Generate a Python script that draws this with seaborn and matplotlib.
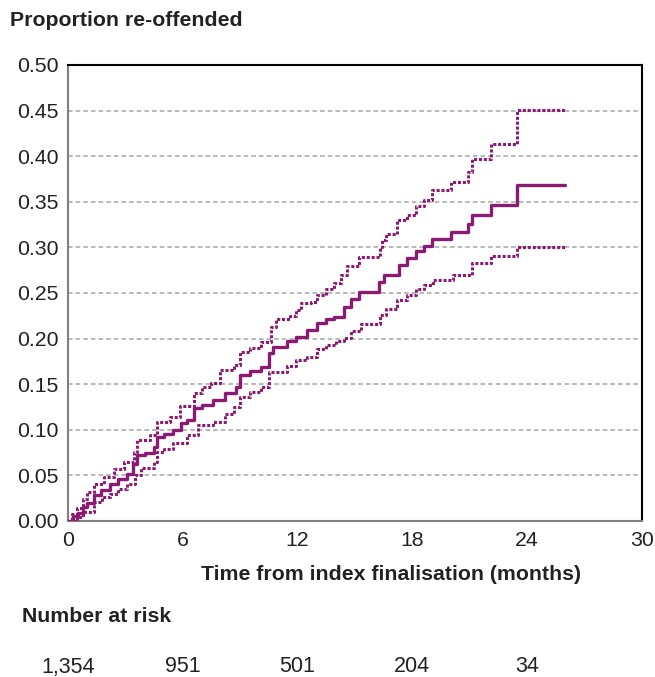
import pandas as pd
import numpy as np
import matplotlib.pyplot as plt
import matplotlib.transforms as mtransforms
from matplotlib.ticker import MultipleLocator
import seaborn as sns

# Kaplan-Meier style cumulative re-offending curve
est_months = [0, 0.25, 0.5, 0.8, 1.0, 1.34, 1.7, 2.2, 2.6, 3.1, 3.4, 3.6, 4.0, 4.5, 4.66,
              5.0, 5.5, 5.9, 6.2, 6.57, 7.0, 7.6, 8.2, 8.8, 9.0, 9.5, 10.07, 10.5, 10.7,
              11.45, 11.9, 12.5, 13.0, 13.5, 13.9, 14.4, 14.8, 15.2, 16.26, 16.5, 17.3,
              17.7, 18.2, 18.6, 19.0, 20.0, 20.9, 21.1, 22.1, 23.45, 26.0]
est_prop = [0, 0.005, 0.009, 0.015, 0.020, 0.028, 0.034, 0.041, 0.046, 0.052, 0.062, 0.072,
            0.075, 0.081, 0.092, 0.095, 0.100, 0.108, 0.111, 0.1235, 0.127, 0.133, 0.140,
            0.147, 0.160, 0.164, 0.1685, 0.184, 0.191, 0.197, 0.202, 0.2094, 0.2167, 0.221,
            0.224, 0.235, 0.243, 0.2514, 0.262, 0.2697, 0.2807, 0.288, 0.296, 0.302, 0.309,
            0.317, 0.326, 0.3355, 0.3465, 0.368, 0.368]

upper_months = [0, 0.2, 0.47, 0.8, 1.0, 1.34, 1.87, 2.4, 2.92, 3.44, 3.6, 4.3, 4.66, 5.35,
                5.87, 6.57, 7.0, 7.45, 7.97, 8.67, 9.0, 9.5, 10.07, 10.6, 10.85, 11.6, 11.9,
                12.2, 12.7, 13.0, 13.5, 13.9, 14.26, 14.6, 15.2, 16.3, 16.4, 16.6, 17.2,
                17.7, 18.2, 18.6, 19.0, 20.0, 20.9, 21.1, 22.1, 23.45, 26.0]
upper_prop = [0, 0.008, 0.014, 0.024, 0.032, 0.041, 0.0486, 0.057, 0.065, 0.076, 0.0888,
              0.094, 0.109, 0.1144, 0.126, 0.140, 0.147, 0.151, 0.1656, 0.171, 0.1856, 0.190,
              0.1966, 0.213, 0.221, 0.225, 0.2314, 0.2387, 0.2405, 0.248, 0.254, 0.2606,
              0.2697, 0.2796, 0.2898, 0.300, 0.308, 0.3143, 0.330, 0.3355, 0.3455, 0.352,
              0.363, 0.372, 0.383, 0.3966, 0.413, 0.4507, 0.4507]

lower_months = [0, 0.47, 0.8, 1.34, 1.8, 2.2, 2.6, 3.1, 3.5, 3.8, 4.5, 4.66, 5.0, 5.5, 6.2,
                6.8, 7.6, 8.2, 8.67, 9.0, 9.5, 10.07, 10.5, 11.45, 11.9, 12.5, 13.0, 13.5,
                14.0, 14.4, 14.8, 15.3, 16.3, 16.6, 17.2, 17.7, 18.2, 18.6, 19.1, 20.1, 21.1,
                22.1, 23.45, 26.0]
lower_prop = [0, 0.0047, 0.010, 0.021, 0.026, 0.030, 0.035, 0.041, 0.050, 0.058, 0.065,
              0.076, 0.079, 0.085, 0.094, 0.105, 0.109, 0.117, 0.125, 0.136, 0.141, 0.147,
              0.1637, 0.170, 0.1765, 0.180, 0.189, 0.193, 0.197, 0.2003, 0.208, 0.216, 0.226,
              0.233, 0.2423, 0.248, 0.254, 0.2588, 0.264, 0.270, 0.283, 0.2906, 0.3008, 0.3008]

risk_months = [0, 6, 12, 18, 24]
at_risk = [1354, 951, 501, 204, 34]

PURPLE = '#8B1A72'
TEXT = '#222222'

sns.set_style("white")
plt.rcParams['font.family'] = ['Liberation Sans', 'DejaVu Sans']

fig = plt.figure(figsize=(6.55, 6.77), dpi=100)
ax = fig.add_axes([68 / 655, 1 - 521 / 677, (642 - 68) / 655, (521 - 65) / 677])

est = pd.DataFrame({'month': est_months, 'prop': est_prop})
upper = pd.DataFrame({'month': upper_months, 'prop': upper_prop})
lower = pd.DataFrame({'month': lower_months, 'prop': lower_prop})

# confidence bounds dotted, estimate solid
for df in (upper, lower):
    sns.lineplot(data=df, x='month', y='prop', ax=ax, estimator=None, color=PURPLE,
                 drawstyle='steps-post', linewidth=2.2, linestyle=(0, (1, 0.6)), zorder=3)
sns.lineplot(data=est, x='month', y='prop', ax=ax, estimator=None, color=PURPLE,
             drawstyle='steps-post', linewidth=2.4, zorder=4)

ax.set_xlim(0, 30)
ax.set_ylim(0, 0.5)
ax.xaxis.set_major_locator(MultipleLocator(6))
ax.xaxis.set_minor_locator(MultipleLocator(1))
ax.yaxis.set_major_locator(MultipleLocator(0.05))
ax.set_yticklabels([f'{v:.2f}' for v in ax.get_yticks()])
ax.set_xlabel('')
ax.set_ylabel('')

for y in np.arange(0.05, 0.5, 0.05):
    ax.axhline(y, color='#A6A6A6', linestyle=(0, (3, 2)), linewidth=1.1, zorder=1)

ax.spines['left'].set_color('#808080')
ax.spines['bottom'].set_color('#808080')
ax.spines['top'].set_color('black')
ax.spines['right'].set_color('black')
for s in ax.spines.values():
    s.set_linewidth(1.5)
    s.set_visible(True)

ax.tick_params(axis='both', which='major', direction='out', length=4, width=1,
               color='#808080', labelsize=15.3, labelcolor=TEXT, pad=3)
ax.tick_params(axis='x', which='minor', direction='out', length=4, width=1, color='#808080')

fig.text(10 / 655, 1 - 21 / 677, 'Proportion re-offended', fontsize=15.3, fontweight='bold',
         color=TEXT, va='center', ha='left')
fig.text(391 / 655, 1 - 574 / 677, 'Time from index finalisation (months)', fontsize=15.3,
         fontweight='bold', color=TEXT, va='center', ha='center')
fig.text(22 / 655, 1 - 617 / 677, 'Number at risk', fontsize=15.3, fontweight='bold',
         color=TEXT, va='center', ha='left')

trans = mtransforms.blended_transform_factory(ax.transData, fig.transFigure)
for m, n in zip(risk_months, at_risk):
    ax.text(m, 1 - 667 / 677, f'{n:,}', transform=trans, fontsize=15.5, color=TEXT,
            ha='center', va='center')

fig.savefig('out.png', dpi=100)
